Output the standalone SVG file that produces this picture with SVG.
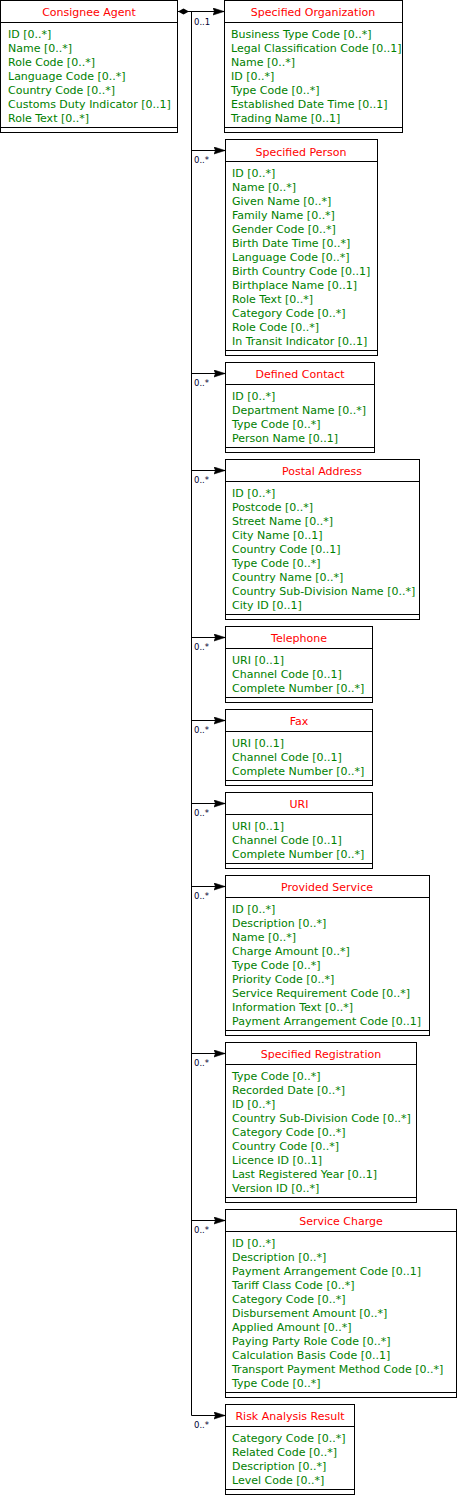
<svg xmlns="http://www.w3.org/2000/svg" width="458" height="1509" viewBox="0 0 458 1509">
<style>
.box{fill:#fff;stroke:#000;stroke-width:1}
.ln{stroke:#000;stroke-width:1;fill:none}
.hd{font-family:"DejaVu Sans",Verdana,sans-serif;font-size:11px;fill:#ff0000;text-anchor:middle}
.at{font-family:"DejaVu Sans",Verdana,sans-serif;font-size:11px;fill:#008000}
.lb{font-family:"DejaVu Sans",Verdana,sans-serif;font-size:8.5px;fill:#000033}
.cn{stroke:#000;stroke-width:1;fill:none;marker-end:url(#arr)}
</style>
<defs>
<marker id="arr" markerUnits="userSpaceOnUse" markerWidth="13" markerHeight="9" refX="11" refY="4" orient="auto"><path d="M0,0.5 L11,4 L0,7.5 L1.5,4 z" fill="#000" stroke="#000" stroke-width="0.6"/></marker>
<marker id="dia" markerUnits="userSpaceOnUse" markerWidth="12" markerHeight="8" refX="0" refY="3.5" orient="auto"><path d="M0,3.5 L5.5,0.5 L11,3.5 L5.5,6.5 z" fill="#000"/></marker>
</defs>
<rect x="0" y="0" width="458" height="1509" fill="#fff"/>
<g id="connectors">
<path class="cn" d="M178,11.5 H224" marker-start="url(#dia)"/>
<path class="ln" d="M191.5,11.5 V1415.5"/>
<path class="cn" d="M191.5,150.5 H225"/>
<path class="cn" d="M191.5,373.5 H225"/>
<path class="cn" d="M191.5,470.5 H225"/>
<path class="cn" d="M191.5,637.5 H225"/>
<path class="cn" d="M191.5,720.5 H225"/>
<path class="cn" d="M191.5,803.5 H225"/>
<path class="cn" d="M191.5,886.5 H225"/>
<path class="cn" d="M191.5,1053.5 H225"/>
<path class="cn" d="M191.5,1220.5 H225"/>
<path class="cn" d="M191.5,1415.5 H225"/>
<text class="lb" x="194" y="25">0..1</text>
<text class="lb" x="194" y="163">0..*</text>
<text class="lb" x="194" y="386">0..*</text>
<text class="lb" x="194" y="483">0..*</text>
<text class="lb" x="194" y="650">0..*</text>
<text class="lb" x="194" y="733">0..*</text>
<text class="lb" x="194" y="816">0..*</text>
<text class="lb" x="194" y="899">0..*</text>
<text class="lb" x="194" y="1066">0..*</text>
<text class="lb" x="194" y="1233">0..*</text>
<text class="lb" x="194" y="1428">0..*</text>
</g>
<g id="consignee-agent">
<rect class="box" x="0.5" y="0.5" width="177" height="132"/>
<path class="ln" d="M0.5,22.5 H177.5 M0.5,127.5 H177.5"/>
<text class="hd" x="89" y="16">Consignee Agent</text>
<text class="at" x="8" y="38">ID [0..*]</text>
<text class="at" x="8" y="52">Name [0..*]</text>
<text class="at" x="8" y="66">Role Code [0..*]</text>
<text class="at" x="8" y="80">Language Code [0..*]</text>
<text class="at" x="8" y="94">Country Code [0..*]</text>
<text class="at" x="8" y="108">Customs Duty Indicator [0..1]</text>
<text class="at" x="8" y="122">Role Text [0..*]</text>
</g>
<g id="specified-organization">
<rect class="box" x="224.5" y="0.5" width="178" height="132"/>
<path class="ln" d="M224.5,22.5 H402.5 M224.5,127.5 H402.5"/>
<text class="hd" x="313" y="16">Specified Organization</text>
<text class="at" x="231" y="38">Business Type Code [0..*]</text>
<text class="at" x="231" y="52">Legal Classification Code [0..1]</text>
<text class="at" x="231" y="66">Name [0..*]</text>
<text class="at" x="231" y="80">ID [0..*]</text>
<text class="at" x="231" y="94">Type Code [0..*]</text>
<text class="at" x="231" y="108">Established Date Time [0..1]</text>
<text class="at" x="231" y="122">Trading Name [0..1]</text>
</g>
<g id="specified-person">
<rect class="box" x="225.5" y="139.5" width="152" height="216"/>
<path class="ln" d="M225.5,161.5 H377.5 M225.5,350.5 H377.5"/>
<text class="hd" x="301" y="156">Specified Person</text>
<text class="at" x="232" y="177">ID [0..*]</text>
<text class="at" x="232" y="191">Name [0..*]</text>
<text class="at" x="232" y="205">Given Name [0..*]</text>
<text class="at" x="232" y="219">Family Name [0..*]</text>
<text class="at" x="232" y="233">Gender Code [0..*]</text>
<text class="at" x="232" y="247">Birth Date Time [0..*]</text>
<text class="at" x="232" y="261">Language Code [0..*]</text>
<text class="at" x="232" y="275">Birth Country Code [0..1]</text>
<text class="at" x="232" y="289">Birthplace Name [0..1]</text>
<text class="at" x="232" y="303">Role Text [0..*]</text>
<text class="at" x="232" y="317">Category Code [0..*]</text>
<text class="at" x="232" y="331">Role Code [0..*]</text>
<text class="at" x="232" y="345">In Transit Indicator [0..1]</text>
</g>
<g id="defined-contact">
<rect class="box" x="225.5" y="362.5" width="149" height="90"/>
<path class="ln" d="M225.5,384.5 H374.5 M225.5,447.5 H374.5"/>
<text class="hd" x="300" y="378">Defined Contact</text>
<text class="at" x="232" y="400">ID [0..*]</text>
<text class="at" x="232" y="414">Department Name [0..*]</text>
<text class="at" x="232" y="428">Type Code [0..*]</text>
<text class="at" x="232" y="442">Person Name [0..1]</text>
</g>
<g id="postal-address">
<rect class="box" x="225.5" y="459.5" width="194" height="160"/>
<path class="ln" d="M225.5,481.5 H419.5 M225.5,614.5 H419.5"/>
<text class="hd" x="322" y="475">Postal Address</text>
<text class="at" x="232" y="497">ID [0..*]</text>
<text class="at" x="232" y="511">Postcode [0..*]</text>
<text class="at" x="232" y="525">Street Name [0..*]</text>
<text class="at" x="232" y="539">City Name [0..1]</text>
<text class="at" x="232" y="553">Country Code [0..1]</text>
<text class="at" x="232" y="567">Type Code [0..*]</text>
<text class="at" x="232" y="581">Country Name [0..*]</text>
<text class="at" x="232" y="595">Country Sub-Division Name [0..*]</text>
<text class="at" x="232" y="609">City ID [0..1]</text>
</g>
<g id="telephone">
<rect class="box" x="225.5" y="626.5" width="147" height="76"/>
<path class="ln" d="M225.5,648.5 H372.5 M225.5,697.5 H372.5"/>
<text class="hd" x="299" y="642">Telephone</text>
<text class="at" x="232" y="664">URI [0..1]</text>
<text class="at" x="232" y="678">Channel Code [0..1]</text>
<text class="at" x="232" y="692">Complete Number [0..*]</text>
</g>
<g id="fax">
<rect class="box" x="225.5" y="709.5" width="147" height="76"/>
<path class="ln" d="M225.5,731.5 H372.5 M225.5,780.5 H372.5"/>
<text class="hd" x="299" y="725">Fax</text>
<text class="at" x="232" y="747">URI [0..1]</text>
<text class="at" x="232" y="761">Channel Code [0..1]</text>
<text class="at" x="232" y="775">Complete Number [0..*]</text>
</g>
<g id="uri">
<rect class="box" x="225.5" y="792.5" width="147" height="76"/>
<path class="ln" d="M225.5,814.5 H372.5 M225.5,863.5 H372.5"/>
<text class="hd" x="299" y="808">URI</text>
<text class="at" x="232" y="830">URI [0..1]</text>
<text class="at" x="232" y="844">Channel Code [0..1]</text>
<text class="at" x="232" y="858">Complete Number [0..*]</text>
</g>
<g id="provided-service">
<rect class="box" x="225.5" y="875.5" width="204" height="160"/>
<path class="ln" d="M225.5,897.5 H429.5 M225.5,1030.5 H429.5"/>
<text class="hd" x="327" y="891">Provided Service</text>
<text class="at" x="232" y="913">ID [0..*]</text>
<text class="at" x="232" y="927">Description [0..*]</text>
<text class="at" x="232" y="941">Name [0..*]</text>
<text class="at" x="232" y="955">Charge Amount [0..*]</text>
<text class="at" x="232" y="969">Type Code [0..*]</text>
<text class="at" x="232" y="983">Priority Code [0..*]</text>
<text class="at" x="232" y="997">Service Requirement Code [0..*]</text>
<text class="at" x="232" y="1011">Information Text [0..*]</text>
<text class="at" x="232" y="1025">Payment Arrangement Code [0..1]</text>
</g>
<g id="specified-registration">
<rect class="box" x="225.5" y="1042.5" width="191" height="160"/>
<path class="ln" d="M225.5,1064.5 H416.5 M225.5,1197.5 H416.5"/>
<text class="hd" x="321" y="1058">Specified Registration</text>
<text class="at" x="232" y="1080">Type Code [0..*]</text>
<text class="at" x="232" y="1094">Recorded Date [0..*]</text>
<text class="at" x="232" y="1108">ID [0..*]</text>
<text class="at" x="232" y="1122">Country Sub-Division Code [0..*]</text>
<text class="at" x="232" y="1136">Category Code [0..*]</text>
<text class="at" x="232" y="1150">Country Code [0..*]</text>
<text class="at" x="232" y="1164">Licence ID [0..1]</text>
<text class="at" x="232" y="1178">Last Registered Year [0..1]</text>
<text class="at" x="232" y="1192">Version ID [0..*]</text>
</g>
<g id="service-charge">
<rect class="box" x="225.5" y="1209.5" width="231" height="188"/>
<path class="ln" d="M225.5,1231.5 H456.5 M225.5,1392.5 H456.5"/>
<text class="hd" x="341" y="1225">Service Charge</text>
<text class="at" x="232" y="1247">ID [0..*]</text>
<text class="at" x="232" y="1261">Description [0..*]</text>
<text class="at" x="232" y="1275">Payment Arrangement Code [0..1]</text>
<text class="at" x="232" y="1289">Tariff Class Code [0..*]</text>
<text class="at" x="232" y="1303">Category Code [0..*]</text>
<text class="at" x="232" y="1317">Disbursement Amount [0..*]</text>
<text class="at" x="232" y="1331">Applied Amount [0..*]</text>
<text class="at" x="232" y="1345">Paying Party Role Code [0..*]</text>
<text class="at" x="232" y="1359">Calculation Basis Code [0..1]</text>
<text class="at" x="232" y="1373">Transport Payment Method Code [0..*]</text>
<text class="at" x="232" y="1387">Type Code [0..*]</text>
</g>
<g id="risk-analysis-result">
<rect class="box" x="225.5" y="1404.5" width="129" height="90"/>
<path class="ln" d="M225.5,1426.5 H354.5 M225.5,1489.5 H354.5"/>
<text class="hd" x="290" y="1420">Risk Analysis Result</text>
<text class="at" x="232" y="1442">Category Code [0..*]</text>
<text class="at" x="232" y="1456">Related Code [0..*]</text>
<text class="at" x="232" y="1470">Description [0..*]</text>
<text class="at" x="232" y="1484">Level Code [0..*]</text>
</g>
</svg>
